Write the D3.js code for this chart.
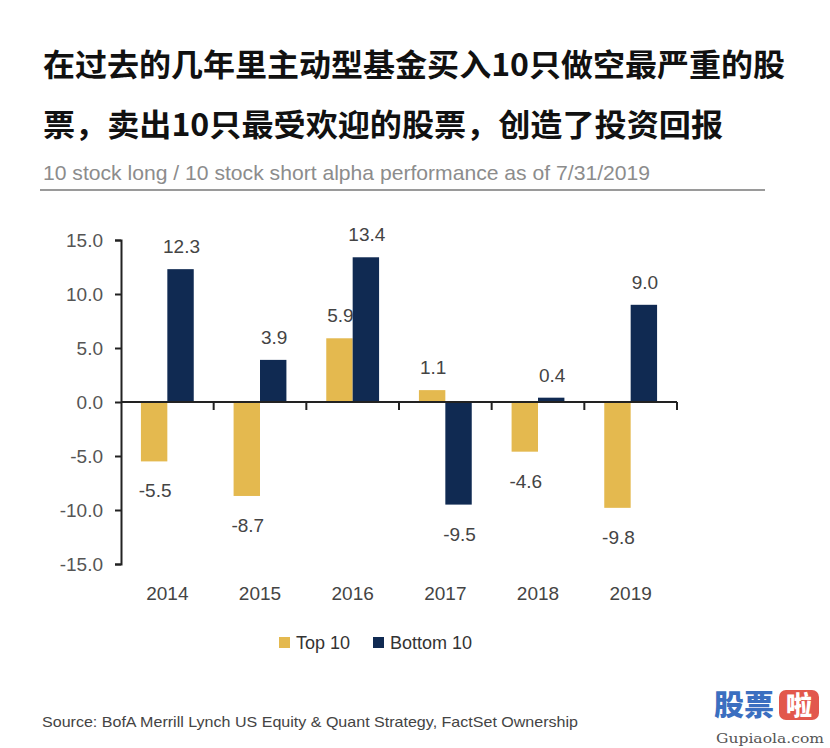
<!DOCTYPE html>
<html><head><meta charset="utf-8">
<script src="https://cdn.jsdelivr.net/npm/d3@7"></script>
<style>body{margin:0;background:#fff}svg{display:block}</style>
</head><body>
<script>
const years = ["2014","2015","2016","2017","2018","2019"];
const seriesNames = ["Top 10","Bottom 10"];
const top10 = [-5.5,-8.7,5.9,1.1,-4.6,-9.8];
const bottom10 = [12.3,3.9,13.4,-9.5,0.4,9.0];
const yTicks = [-15,-10,-5,0,5,10,15];
const titleLines = ["在过去的几年里主动型基金买入10只做空最严重的股","票，卖出10只最受欢迎的股票，创造了投资回报"];
const subtitle = "10 stock long / 10 stock short alpha performance as of 7/31/2019";
const source = "Source: BofA Merrill Lynch US Equity & Quant Strategy, FactSet Ownership";
const colors = ["#E4B94F","#102A52"];

const W=830,H=748;
const svg=d3.select("body").append("svg").attr("width",W).attr("height",H);
svg.append("rect").attr("width",W).attr("height",H).attr("fill","#fff");

// Title
const tl=[{t:titleLines[0],y:76,w:742},{t:titleLines[1],y:136,w:680}];
svg.selectAll("text.title").data(tl).join("text").attr("class","title")
  .attr("x",43).attr("y",d=>d.y).text(d=>d.t)
  .attr("font-family","'Noto Sans CJK SC'").attr("font-weight",700).attr("font-size",31)
  .attr("fill","#111").attr("textLength",d=>d.w).attr("lengthAdjust","spacingAndGlyphs");

svg.append("text").attr("x",43).attr("y",180).text(subtitle)
  .attr("font-family","'Liberation Sans', Arial, sans-serif").attr("font-size",21)
  .attr("fill","#8c8c8c").attr("textLength",607).attr("lengthAdjust","spacingAndGlyphs");
svg.append("line").attr("x1",40).attr("x2",765).attr("y1",190).attr("y2",190)
  .attr("stroke","#9a9a9a").attr("stroke-width",2);

// Scales
const x0=d3.scaleBand().domain(years).range([121,677]).paddingInner(0.43).paddingOuter(0.215);
const x1=d3.scaleBand().domain(seriesNames).range([0,x0.bandwidth()]);
const y=d3.scaleLinear().domain([-15,15]).range([564,240]);
const fmt=v=>v.toFixed(1);

// Bars
const rows=years.map((yr,i)=>({year:yr,vals:[{s:seriesNames[0],v:top10[i]},{s:seriesNames[1],v:bottom10[i]}]}));
const g=svg.append("g");
const grp=g.selectAll("g.yr").data(rows).join("g").attr("transform",d=>`translate(${x0(d.year)},0)`);
grp.selectAll("rect").data(d=>d.vals).join("rect")
  .attr("x",d=>x1(d.s)).attr("width",x1.bandwidth())
  .attr("y",d=>y(Math.max(0,d.v))).attr("height",d=>Math.abs(y(d.v)-y(0)))
  .attr("fill",(d,i)=>colors[i]);
grp.selectAll("text").data(d=>d.vals).join("text")
  .attr("x",d=>x1(d.s)+x1.bandwidth()/2+1)
  .attr("y",d=>d.v>=0? y(d.v)-16 : y(d.v)+36)
  .attr("text-anchor","middle").text(d=>fmt(d.v))
  .attr("font-family","'Liberation Sans', Arial, sans-serif").attr("font-size",19).attr("fill","#444");

// Y axis
const yAx=svg.append("g").attr("transform","translate(121,0)")
  .call(d3.axisLeft(y).tickValues(yTicks).tickFormat(fmt).tickSize(6).tickPadding(12));
yAx.select(".domain").attr("stroke","#222").attr("stroke-width",2);
yAx.selectAll(".tick line").attr("stroke","#222").attr("stroke-width",2);
yAx.selectAll("text").attr("font-family","'Liberation Sans', Arial, sans-serif").attr("font-size",19).attr("fill","#555");

// X axis (zero line with ticks at band boundaries)
svg.append("line").attr("x1",121).attr("x2",677).attr("y1",y(0)).attr("y2",y(0))
  .attr("stroke","#222").attr("stroke-width",2);
svg.selectAll("line.xt").data(years).join("line").attr("class","xt")
  .attr("x1",d=>x0(d)+x0.bandwidth()+x0.step()*x0.paddingInner()/2)
  .attr("x2",d=>x0(d)+x0.bandwidth()+x0.step()*x0.paddingInner()/2)
  .attr("y1",y(0)).attr("y2",y(0)+8).attr("stroke","#222").attr("stroke-width",2);
svg.selectAll("text.yr").data(years).join("text").attr("class","yr")
  .attr("x",d=>x0(d)+x0.bandwidth()/2).attr("y",600).attr("text-anchor","middle").text(d=>d)
  .attr("font-family","'Liberation Sans', Arial, sans-serif").attr("font-size",19).attr("fill","#444");

// Legend
const leg=[{n:seriesNames[0],x:279,c:colors[0]},{n:seriesNames[1],x:373,c:colors[1]}];
const lg=svg.selectAll("g.leg").data(leg).join("g").attr("class","leg").attr("transform",d=>`translate(${d.x},0)`);
lg.append("rect").attr("x",0).attr("y",637).attr("width",11).attr("height",11).attr("fill",d=>d.c);
lg.append("text").attr("x",17).attr("y",649).text(d=>d.n)
  .attr("font-family","'Liberation Sans', Arial, sans-serif").attr("font-size",18).attr("fill","#333");

// Source
svg.append("text").attr("x",42).attr("y",727).text(source)
  .attr("font-family","'Liberation Sans', Arial, sans-serif").attr("font-size",14.5).attr("fill","#444")
  .attr("textLength",536).attr("lengthAdjust","spacingAndGlyphs");

// Watermark
svg.append("text").attr("x",714).attr("y",716).text("股票")
  .attr("font-family","'Noto Sans CJK SC'").attr("font-weight",900).attr("font-size",29).attr("fill","#3b6fc0")
  .attr("textLength",60).attr("lengthAdjust","spacingAndGlyphs");
svg.append("rect").attr("x",779).attr("y",690).attr("width",40).attr("height",30).attr("rx",7).attr("fill","#e2574c");
svg.append("text").attr("x",799).attr("y",715).attr("text-anchor","middle").text("啦")
  .attr("font-family","'Noto Sans CJK SC'").attr("font-weight",900).attr("font-size",26).attr("fill","#fff");
svg.append("text").attr("x",716).attr("y",743).text("Gupiaola.com")
  .attr("font-family","'DejaVu Serif', serif").attr("font-size",13).attr("fill","#555")
  .attr("textLength",108).attr("lengthAdjust","spacingAndGlyphs");
</script>
</body></html>
